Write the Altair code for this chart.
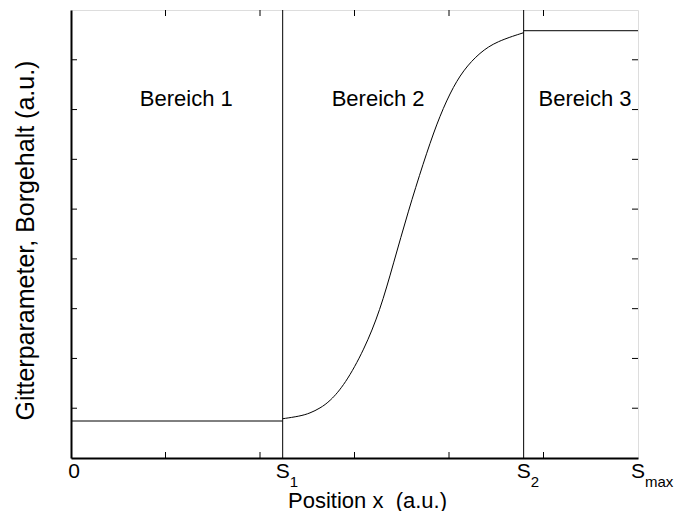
import altair as alt
import pandas as pd

FONT = "Liberation Sans"

# Plot-area size in pixels
W, H = 567, 448

# Axis extents (arbitrary units)
X_MAX = 6
Y_MAX = 9

# Region boundaries
S1 = 2.24
S2 = 4.79

# Constant levels in regions 1 and 3
level_low = 0.743
level_high = 8.584

# Transition profile in region 2
curve_x = [2.24, 2.423, 2.529, 2.635, 2.741, 2.899, 3.101, 3.270, 3.411,
           3.569, 3.728, 3.870, 4.011, 4.151, 4.328, 4.505, 4.79]
curve_y = [0.789, 0.840, 0.900, 1.000, 1.140, 1.480, 2.170, 2.960, 3.900,
           4.960, 5.926, 6.720, 7.340, 7.794, 8.150, 8.370, 8.544]

# Unlabelled tick positions
x_ticks = [1, 2, 3, 4, 5]
y_ticks = [1, 2, 3, 4, 5, 6, 7, 8]

# Region labels
region_names = ["Bereich 1", "Bereich 2", "Bereich 3"]
region_label_x = [1.22, 3.25, 5.44]
region_label_y = 7.08

# Position labels on the x axis: "S" with subscript
pos_x = [S1, S2, X_MAX]
pos_sub = ["1", "2", "max"]

xscale = alt.Scale(domain=[0, X_MAX], nice=False, zero=False)
yscale = alt.Scale(domain=[0, Y_MAX], nice=False, zero=False)

x_axis = alt.Axis(
    domain=True, domainColor="black", domainWidth=2,
    ticks=False, labels=False, grid=False,
    title="Position x\u00a0\u00a0(a.u.)", titleFont=FONT, titleFontSize=22,
    titleFontWeight="normal", titleColor="black",
    titleX=296, titleY=49, titleBaseline="alphabetic", titleAlign="center",
)
y_axis = alt.Axis(
    domain=True, domainColor="black", domainWidth=2,
    ticks=False, labels=False, grid=False,
    title="Gitterparameter, Borgehalt (a.u.)", titleFont=FONT, titleFontSize=25,
    titleFontWeight="normal", titleColor="black", titleAngle=270,
    titleX=-38, titleY=230, titleBaseline="alphabetic", titleAlign="center",
)


def X(field="x"):
    return alt.X(f"{field}:Q", scale=xscale, axis=x_axis, title="Position x\u00a0\u00a0(a.u.)")


def Y(field="y"):
    return alt.Y(f"{field}:Q", scale=yscale, axis=y_axis,
                 title="Gitterparameter, Borgehalt (a.u.)")


low_df = pd.DataFrame({"x": [0, S1], "y": [level_low, level_low]})
high_df = pd.DataFrame({"x": [S2, X_MAX], "y": [level_high, level_high]})
curve_df = pd.DataFrame({"x": curve_x, "y": curve_y})

low_line = alt.Chart(low_df).mark_line(color="black", strokeWidth=1).encode(x=X(), y=Y())
high_line = alt.Chart(high_df).mark_line(color="black", strokeWidth=1).encode(x=X(), y=Y())
curve = alt.Chart(curve_df).mark_line(
    color="black", strokeWidth=1, interpolate="basis"
).encode(x=X(), y=Y())

# Region boundaries spanning the full height
bounds = alt.Chart(pd.DataFrame({"x": [S1, S2]})).mark_rule(
    color="black", strokeWidth=1
).encode(x=X(), y=alt.value(0), y2=alt.value(H))

# Inward tick marks on all four sides
xt = pd.DataFrame({"x": x_ticks})
yt = pd.DataFrame({"y": y_ticks})
TL = 6
tick_bottom = alt.Chart(xt).mark_rule(color="black", strokeWidth=1).encode(
    x=X(), y=alt.value(H), y2=alt.value(H - TL))
tick_top = alt.Chart(xt).mark_rule(color="black", strokeWidth=1).encode(
    x=X(), y=alt.value(0), y2=alt.value(TL))
tick_left = alt.Chart(yt).mark_rule(color="black", strokeWidth=1).encode(
    y=Y(), x=alt.value(0), x2=alt.value(TL))
tick_right = alt.Chart(yt).mark_rule(color="black", strokeWidth=1).encode(
    y=Y(), x=alt.value(W - TL), x2=alt.value(W))

# Region labels
regions = alt.Chart(pd.DataFrame({
    "name": region_names, "x": region_label_x, "y": [region_label_y] * 3
})).mark_text(font=FONT, fontSize=22, color="black", align="center",
              baseline="alphabetic").encode(x=X(), y=Y(), text="name:N")

# x-axis labels: origin, S with subscripts
zero_label = alt.Chart(pd.DataFrame({"x": [0], "t": ["0"]})).mark_text(
    font=FONT, fontSize=21, color="black", align="center",
    baseline="alphabetic", dx=3
).encode(x=X(), y=alt.value(H + 20), text="t:N")

pos_df = pd.DataFrame({"x": pos_x, "s": ["S"] * len(pos_x), "sub": pos_sub})
s_labels = alt.Chart(pos_df).mark_text(
    font=FONT, fontSize=21, color="black", align="center", baseline="alphabetic"
).encode(x=X(), y=alt.value(H + 20), text="s:N")
sub_labels = alt.Chart(pos_df).mark_text(
    font=FONT, fontSize=15, color="black", align="left", baseline="alphabetic", dx=7
).encode(x=X(), y=alt.value(H + 29), text="sub:N")

chart = alt.layer(
    low_line, high_line, curve, bounds,
    tick_bottom, tick_top, tick_left, tick_right,
    regions, zero_label, s_labels, sub_labels,
).properties(
    width=W, height=H,
    autosize=alt.AutoSizeParams(type="none"),
    padding={"left": 71, "top": 10, "right": 679 - 71 - W, "bottom": 511 - 10 - H},
    background="white",
).configure_view(
    stroke="black", strokeWidth=1
).configure(font=FONT)

chart.save("out.html", embed_options={"renderer": "svg", "actions": False})
